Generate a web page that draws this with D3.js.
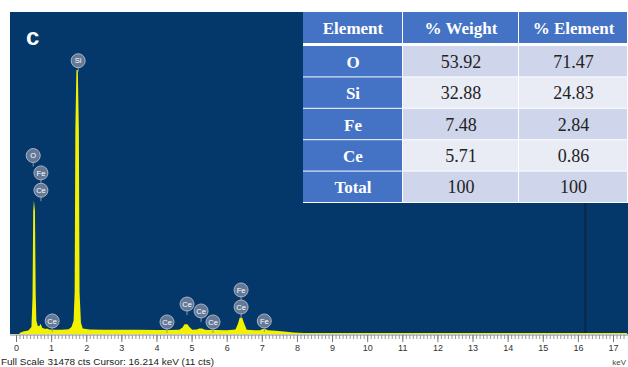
<!DOCTYPE html>
<html>
<head>
<meta charset="utf-8">
<script src="https://cdn.jsdelivr.net/npm/d3@7"></script>
<style>
  html, body { margin: 0; padding: 0; background: #fff; }
  svg { display: block; }
</style>
</head>
<body>
<div id="chart"></div>
<script>
// spectrum (keV, counts)
const energy = [0.10, 0.20, 0.35, 0.44, 0.47, 0.49, 0.51, 0.54, 0.56, 0.58, 0.62, 0.66, 0.70, 0.75, 0.85, 0.88, 0.95,
  1.10, 1.30, 1.50, 1.58, 1.64, 1.67, 1.69, 1.72, 1.76, 1.79, 1.81, 1.85, 1.90, 2.10, 2.50, 3.00, 3.50, 4.00,
  4.25, 4.29, 4.35, 4.65, 4.74, 4.80, 4.88, 4.95, 5.02, 5.15, 5.22, 5.30, 5.38, 5.50, 5.61, 5.70, 6.00, 6.25, 6.32,
  6.37, 6.44, 6.50, 6.57, 6.80, 6.95, 7.02, 7.10, 7.17, 7.40, 7.70, 7.90, 8.20, 17.4]
const counts = [0, 150, 250, 600, 3500, 12000, 13000, 12000, 4000, 1200, 700, 650, 900, 500, 400, 450, 350,
  330, 330, 380, 600, 1200, 4000, 20000, 25800, 25800, 20000, 4000, 1000, 450, 350, 330, 320, 310, 300,
  300, 330, 300, 320, 550, 850, 850, 550, 320, 340, 450, 450, 330, 300, 330, 290, 280, 350, 900,
  1500, 1500, 900, 330, 260, 260, 400, 400, 260, 220, 120, 50, 0, 0]

// peak markers
const markEl  = ['Si', 'O', 'Fe', 'Ce', 'Ce', 'Ce', 'Ce', 'Ce', 'Ce', 'Fe', 'Ce', 'Fe']
const markKeV = [1.77, 0.49, 0.71, 0.71, 1.03, 4.30, 4.87, 5.27, 5.61, 6.41, 6.41, 7.07]
const markCts = [26700, 17400, 15700, 14000, 1180, 1080, 2840, 2160, 1080, 4220, 2550, 1180]

const fullScale = 31478
const cursorKeV = 16.214
const xTicks = d3.range(0, 18)

// table
const tableHead = ['Element', '% Weight', '% Element']
const elements = ['O', 'Si', 'Fe', 'Ce', 'Total']
const weightPct = ['53.92', '32.88', '7.48', '5.71', '100']
const elementPct = ['71.47', '24.83', '2.84', '0.86', '100']

const W = 628, H = 367
const plot = { left: 10, right: 628, top: 12, bottom: 334 }

const svg = d3.select('#chart').append('svg')
  .attr('width', W).attr('height', H)
  .style('font-family', 'Arial, "Liberation Sans", sans-serif')

const x = d3.scaleLinear().domain([0, 17]).range([16, 613])
const y = d3.scaleLinear().domain([0, fullScale]).range([333, plot.top])

svg.append('rect')
  .attr('x', plot.left).attr('y', plot.top)
  .attr('width', plot.right - plot.left).attr('height', plot.bottom - plot.top)
  .attr('fill', '#04376a')

svg.append('defs').append('clipPath').attr('id', 'pc')
  .append('rect')
  .attr('x', plot.left).attr('y', plot.top)
  .attr('width', plot.right - plot.left).attr('height', plot.bottom - plot.top)

const g = svg.append('g').attr('clip-path', 'url(#pc)')

// cursor
g.append('line')
  .attr('x1', x(cursorKeV)).attr('x2', x(cursorKeV))
  .attr('y1', plot.top).attr('y2', plot.bottom)
  .attr('stroke', '#0b2747').attr('stroke-width', 2)

const spec = energy.map((e, i) => ({ e, c: counts[i] }))
const area = d3.area()
  .x(d => x(d.e))
  .y0(y(0) + 1)
  .y1(d => y(d.c))
g.append('path').datum(spec)
  .attr('d', area)
  .attr('fill', '#f2f200')

// marker labels
const marks = markEl.map((el, i) => ({ el, e: markKeV[i], c: markCts[i] }))
const mg = g.selectAll('.mark').data(marks).join('g')
  .attr('class', 'mark')
  .attr('transform', d => `translate(${x(d.e)},${y(d.c)})`)
mg.append('line')
  .attr('y1', 6).attr('y2', 11)
  .attr('stroke', '#8a96aa').attr('stroke-width', 1)
mg.append('circle')
  .attr('r', 7)
  .attr('fill', '#7d8aa3').attr('fill-opacity', 0.8)
  .attr('stroke', '#a9b3c6').attr('stroke-width', 1)
mg.append('text')
  .attr('text-anchor', 'middle').attr('dy', '0.35em')
  .attr('font-size', '7.5px').attr('fill', '#fff')
  .text(d => d.el)

svg.append('text')
  .attr('x', 26).attr('y', 45)
  .attr('fill', '#fff').attr('font-weight', 'bold').attr('font-size', '24px')
  .text('c')

// ruler axis
const axY = 335
svg.append('g')
  .attr('transform', `translate(0,${axY})`)
  .call(d3.axisBottom(x).tickValues(d3.range(0, 174).map(i => i / 10)).tickSize(4).tickFormat(''))
  .call(a => a.select('.domain').remove())
  .call(a => a.selectAll('line').attr('stroke', '#9a9a9a'))

svg.append('g')
  .attr('transform', `translate(0,${axY})`)
  .call(d3.axisBottom(x).tickValues(xTicks).tickSize(7).tickPadding(3).tickFormat(d3.format('d')))
  .call(a => a.select('.domain').attr('d', `M${plot.left},0H${plot.right}`).attr('stroke', '#888'))
  .call(a => a.selectAll('line').attr('stroke', '#777'))
  .call(a => a.selectAll('text').attr('fill', '#333').attr('font-size', '9px')
    .attr('font-family', 'Arial, "Liberation Sans", sans-serif'))

svg.append('text')
  .attr('x', 626).attr('y', 365)
  .attr('text-anchor', 'end')
  .attr('font-size', '8px').attr('fill', '#444')
  .text('keV')

svg.append('text')
  .attr('x', 1).attr('y', 365)
  .attr('font-size', '8.5px').attr('fill', '#222')
  .attr('textLength', 213).attr('lengthAdjust', 'spacingAndGlyphs')
  .text(`Full Scale ${fullScale} cts  Cursor: ${cursorKeV} keV (11 cts)`)

// table
const colEdges = [303, 403, 519, 628]
const headY = [12, 43]
const rowY = d3.scaleBand().domain(elements).range([46, 203])
const tg = svg.append('g').style('font-family', '"Liberation Serif", "Times New Roman", serif')

tg.append('rect')
  .attr('x', colEdges[0]).attr('y', headY[0])
  .attr('width', colEdges[3] - colEdges[0]).attr('height', 203 - headY[0])
  .attr('fill', '#fff')

tableHead.forEach((h, j) => {
  tg.append('rect')
    .attr('x', colEdges[j]).attr('y', headY[0])
    .attr('width', colEdges[j + 1] - colEdges[j] - 1).attr('height', headY[1] - headY[0])
    .attr('fill', '#4472c4')
  tg.append('text')
    .attr('x', (colEdges[j] + colEdges[j + 1]) / 2).attr('y', 34)
    .attr('text-anchor', 'middle').attr('fill', '#fff')
    .attr('font-weight', 'bold').attr('font-size', '17px')
    .text(h)
})

elements.forEach((el, i) => {
  const y0 = rowY(el), h = rowY.bandwidth()
  const cells = [el, weightPct[i], elementPct[i]]
  cells.forEach((v, j) => {
    tg.append('rect')
      .attr('x', colEdges[j]).attr('y', y0)
      .attr('width', colEdges[j + 1] - colEdges[j] - 1).attr('height', h - 1)
      .attr('fill', j === 0 ? '#4472c4' : (i % 2 === 0 ? '#cfd5ea' : '#e9ebf5'))
    tg.append('text')
      .attr('x', (colEdges[j] + colEdges[j + 1]) / 2).attr('y', y0 + h / 2 + 6)
      .attr('text-anchor', 'middle')
      .attr('fill', j === 0 ? '#fff' : '#222')
      .attr('font-weight', j === 0 ? 'bold' : 'normal')
      .attr('font-size', j === 0 ? '17px' : '18px')
      .text(v)
  })
})
</script>
</body>
</html>
